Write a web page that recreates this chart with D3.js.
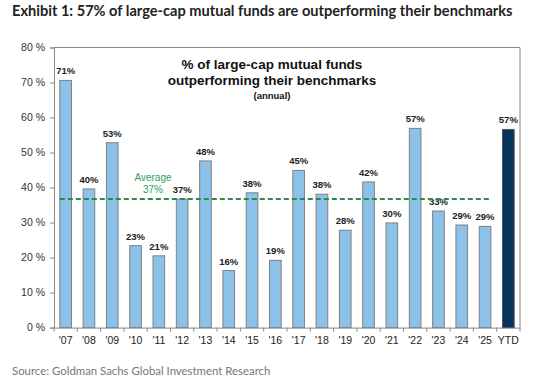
<!DOCTYPE html>
<html><head><meta charset="utf-8">
<script src="https://cdn.jsdelivr.net/npm/d3@7"></script>
<style>body{margin:0;background:#fff}svg{display:block}</style>
</head><body><svg id="c" width="550" height="382"></svg>
<script>
const categories = ["'07","'08","'09","'10","'11","'12","'13","'14","'15","'16","'17","'18","'19","'20","'21","'22","'23","'24","'25","YTD"];
const values = [70.6,39.6,52.8,23.4,20.5,36.7,47.6,16.3,38.5,19.2,44.9,38.1,27.8,41.6,29.9,56.9,33.3,29.3,28.9,56.6];
const labels = ["71%","40%","53%","23%","21%","37%","48%","16%","38%","19%","45%","38%","28%","42%","30%","57%","33%","29%","29%","57%"];
const yTicks = [0,10,20,30,40,50,60,70,80];
const average = 36.7;

const svg = d3.select("#c");
const m = {left:54, right:520, top:47.5, bottom:327.6};
const x = d3.scaleBand().domain(categories).range([m.left, m.right]).paddingInner(0.5).paddingOuter(0.25);
const y = d3.scaleLinear().domain([0,80]).range([m.bottom, m.top]);

svg.append("text").attr("x",12).attr("y",16).attr("font-family","Lato").attr("font-weight",700)
  .attr("font-size",14.6).attr("fill","#222").text("Exhibit 1: 57% of large-cap mutual funds are outperforming their benchmarks");

// frame top/right
svg.append("path").attr("d",`M${m.left},${m.top}H${m.right}V${m.bottom}`).attr("fill","none").attr("stroke","#888").attr("stroke-width",1);

const yAxis = svg.append("g").attr("transform",`translate(${m.left},0)`)
  .call(d3.axisLeft(y).tickValues(yTicks).tickSize(4).tickFormat(d=>d+" %"));
yAxis.select(".domain").attr("stroke","#888");
yAxis.selectAll(".tick line").attr("stroke","#888");
yAxis.selectAll("text").attr("font-family","Arial, Liberation Sans").attr("font-size",10.5).attr("fill","#333").attr("x",-9);

const xAxis = svg.append("g").attr("transform",`translate(0,${m.bottom})`)
  .call(d3.axisBottom(x).tickSize(0).tickSizeOuter(0));
xAxis.select(".domain").attr("stroke","#888");
xAxis.selectAll("text").attr("font-family","Arial, Liberation Sans").attr("font-size",10.5).attr("fill","#222").attr("dy","1.3em");
// ticks between categories
svg.append("g").selectAll("line").data(d3.range(categories.length+1)).join("line")
  .attr("x1",i=>m.left + i*(m.right-m.left)/categories.length).attr("x2",i=>m.left + i*(m.right-m.left)/categories.length)
  .attr("y1",m.bottom).attr("y2",m.bottom+4).attr("stroke","#888");

svg.append("g").selectAll("rect").data(values).join("rect")
  .attr("x",(d,i)=>x(categories[i])).attr("width",x.bandwidth())
  .attr("y",d=>y(d)).attr("height",d=>y(0)-y(d))
  .attr("fill",(d,i)=>categories[i]==="YTD"?"#06335C":"#8CC1EA")
  .attr("stroke",(d,i)=>categories[i]==="YTD"?"#555":"#808080").attr("stroke-width",1);

svg.append("g").selectAll("text").data(values).join("text")
  .attr("x",(d,i)=>x(categories[i])+x.bandwidth()/2).attr("y",d=>y(d)-6)
  .attr("text-anchor","middle").attr("font-family","Arial, Liberation Sans").attr("font-weight",700)
  .attr("font-size",9.5).attr("fill","#222").text((d,i)=>labels[i]);

svg.append("line").attr("x1",x("'07")).attr("x2",x("'25")+x.bandwidth())
  .attr("y1",y(average)).attr("y2",y(average)).attr("stroke","#1F8F4A").attr("stroke-width",2).attr("stroke-dasharray","5,3");
svg.append("text").attr("x",153).attr("y",181).attr("text-anchor","middle").attr("font-family","Arial, Liberation Sans")
  .attr("font-size",10).attr("fill","#2E9E5B").text("Average");
svg.append("text").attr("x",153).attr("y",192.5).attr("text-anchor","middle").attr("font-family","Arial, Liberation Sans")
  .attr("font-size",10).attr("fill","#2E9E5B").text("37%");

const tt = svg.append("text").attr("text-anchor","middle").attr("font-family","Arial, Liberation Sans").attr("font-weight",700).attr("fill","#111");
tt.append("tspan").attr("x",272).attr("y",69).attr("font-size",13.5).text("% of large-cap mutual funds");
tt.append("tspan").attr("x",272).attr("y",85).attr("font-size",13.5).text("outperforming their benchmarks");
tt.append("tspan").attr("x",272).attr("y",98.5).attr("font-size",9.5).text("(annual)");

svg.append("text").attr("x",12).attr("y",375).attr("font-family","Lato").attr("font-size",11.4)
  .attr("fill","#777").text("Source: Goldman Sachs Global Investment Research");
</script></body></html>
